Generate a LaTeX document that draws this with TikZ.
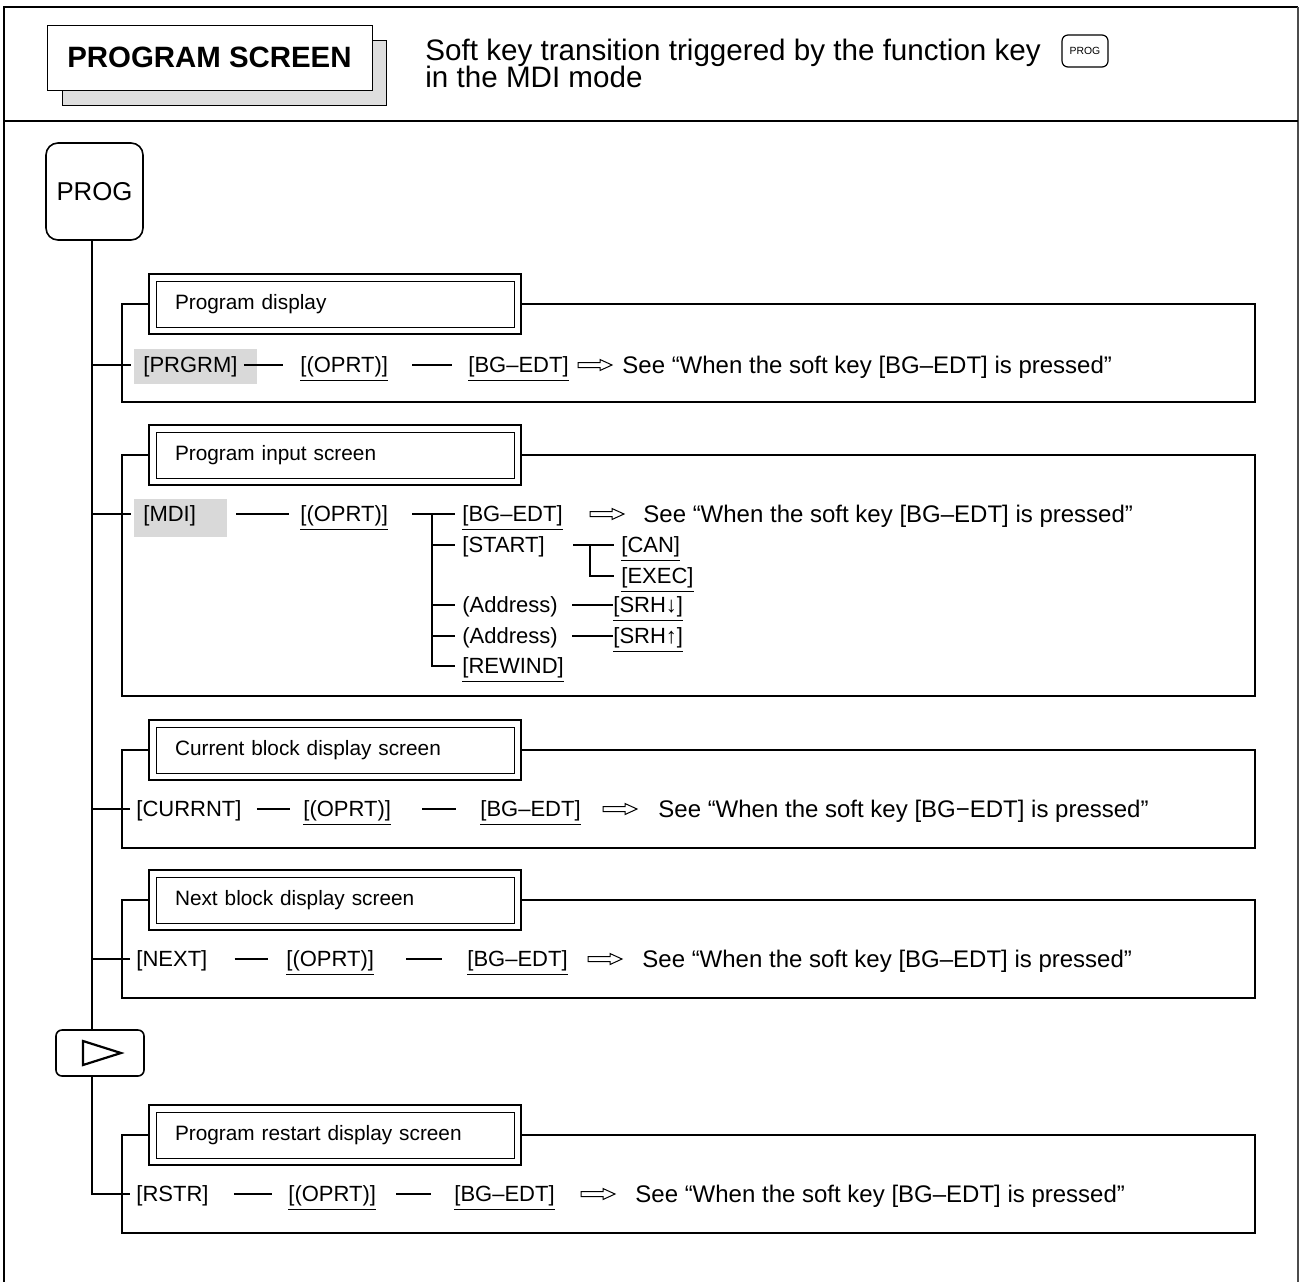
\documentclass[tikz,border=0pt]{standalone}
\usepackage{fontspec}
\setmainfont{Liberation Sans}

\tikzset{
  wire/.style={line width=0.7pt},
  softkey/.style={anchor=west, inner sep=0pt, text height=9.9pt, text depth=2pt,
    font=\fontsize{11}{13}\selectfont},
  seetxt/.style={anchor=west, inner sep=0pt, text height=10.6pt, text depth=2pt,
    font=\fontsize{12}{14}\selectfont},
  hdrtxt/.style={anchor=base west, inner sep=0pt, font=\fontsize{14.8}{17}\selectfont},
  titlebox/.style={draw, line width=1pt, minimum width=186pt, minimum height=30pt,
    text width=160pt, inner xsep=13pt, align=left, font=\fontsize{10.4}{12}\selectfont},
  fkey/.style={draw, rounded corners=6pt, line width=0.8pt, inner sep=0pt},
  hilite/.style={fill=black!15},
  hollowarr/.pic={\draw[line width=0.5pt] (0,-2.5) -- (22,-2.5) -- (22,-5.5) -- (34,0)
    -- (22,5.5) -- (22,2.5) -- (0,2.5) -- cycle;},
}

\begin{document}
\begin{tikzpicture}[x=0.5pt, y=-0.5pt]
\useasboundingbox (0,0) rectangle (1300,1281);

% outer frame and header
\draw[line width=1.1pt] (4,1290) -- (4,7) -- (1298,7);
\draw[line width=0.8pt, black!70] (1298,7) -- (1298,1290);
\draw[line width=1pt] (4,121) -- (1298,121);
\node[draw, fill=black!13, minimum width=162pt, minimum height=32.5pt] (shadow) at (224,72.5) {};
\node[draw, fill=white, minimum width=162.5pt, minimum height=32.5pt,
  font=\bfseries\fontsize{14.7}{16}\selectfont] (screen) at (209.5,57.5) {PROGRAM SCREEN};
\node[hdrtxt] (hdrA) at (425,60) {Soft key transition triggered by the function key};
\node[hdrtxt] (hdrB) at (425,87) {in the MDI mode};
\node[fkey, rounded corners=3pt, line width=0.6pt, minimum width=23pt, minimum height=16pt,
  font=\fontsize{5.2}{6}\selectfont] (progkey) at (1085,51) {PROG};

% function keys and trunk
\node[fkey, minimum width=48.5pt, minimum height=48.5pt, font=\fontsize{12.9}{14}\selectfont]
  (prog) at (94.5,191.5) {\raisebox{-2pt}{PROG}};
\node[fkey, rounded corners=3pt, minimum width=44pt, minimum height=23pt] (nxt) at (100,1053) {};
\draw[line width=1.1pt] ([shift={(-17,-12)}]nxt.center) -- ([shift={(21,0)}]nxt.center)
  -- ([shift={(-17,12)}]nxt.center) -- cycle;
\coordinate (trk) at (92,240);
\draw[wire] (prog.south -| trk) -- (nxt.north -| trk);

% screen titles and frames
\foreach \nm/\cy/\by/\txt in {tA/304/402/Program display, tB/455/696/Program input screen,
  tC/750/848/Current block display screen, tD/900/998/Next block display screen,
  tE/1135/1233/Program restart display screen} {
  \node[titlebox] (\nm) at (335,\cy) {\txt};
  \draw[line width=0.5pt] ([shift={(8,8)}]\nm.north west) rectangle ([shift={(-8,-8)}]\nm.south east);
  \draw[wire] (\nm.west) -- (122,\cy) -- (122,\by) -- (1255,\by) -- (1255,\cy) -- (\nm.east);
}

% program display
\fill[hilite] (134,349) rectangle (257,384);
\node[softkey] (prgrm) at (143,365) {[PRGRM]};
\node[softkey] (oprtA) at (300,365) {\underline{[(OPRT)]}};
\node[softkey] (bgA) at (468,365) {\underline{[BG–EDT]}};
\pic at (578,365) {hollowarr};
\node[seetxt] (seeA) at (622,365) {See “When the soft key [BG–EDT] is pressed”};
\draw[wire] (trk |- prgrm) -- ([shift={(-12,0)}]prgrm.west);
\draw[wire] ([shift={(6,0)}]prgrm.east) -- ([shift={(-17,0)}]oprtA.west);
\draw[wire] ([shift={(24,0)}]oprtA.east) -- ([shift={(-16,0)}]bgA.west);

% program input screen
\fill[hilite] (134,499) rectangle (227,537);
\node[softkey] (mdi) at (143,514) {[MDI]};
\node[softkey] (oprtB) at (300,514) {\underline{[(OPRT)]}};
\node[softkey] (bgB) at (462,514) {\underline{[BG–EDT]}};
\node[softkey] (start) at (462,545) {[START]};
\node[softkey] (adrA) at (462,605) {(Address)};
\node[softkey] (adrB) at (462,636) {(Address)};
\node[softkey] (rewind) at (462,666) {\underline{[REWIND]}};
\node[softkey] (can) at (621,545) {\underline{[CAN]}};
\node[softkey] (exec) at (621,576) {\underline{[EXEC]}};
\node[softkey] (srhA) at (613,605) {\underline{[SRH↓]}};
\node[softkey] (srhB) at (613,636) {\underline{[SRH↑]}};
\pic at (590,514) {hollowarr};
\node[seetxt] (seeB) at (643,514) {See “When the soft key [BG–EDT] is pressed”};
\coordinate (fork) at (432,514);
\coordinate (forkS) at (590,545);
\draw[wire] (trk |- mdi) -- ([shift={(-12,0)}]mdi.west);
\draw[wire] ([shift={(40,0)}]mdi.east) -- ([shift={(-11,0)}]oprtB.west);
\draw[wire] ([shift={(24,0)}]oprtB.east) -- ([shift={(-7,0)}]bgB.west);
\draw[wire] (fork) |- ([shift={(-7,0)}]rewind.west);
\foreach \k in {start,adrA,adrB} \draw[wire] (fork |- \k) -- ([shift={(-7,0)}]\k.west);
\draw[wire] ([shift={(28,0)}]start.east) -- ([shift={(-7,0)}]can.west);
\draw[wire] (forkS) |- ([shift={(-7,0)}]exec.west);
\draw[wire] ([shift={(14,0)}]adrA.east) -- (srhA.west);
\draw[wire] ([shift={(14,0)}]adrB.east) -- (srhB.west);

% current block display screen
\node[softkey] (currnt) at (136,809) {[CURRNT]};
\node[softkey] (oprtC) at (303,809) {\underline{[(OPRT)]}};
\node[softkey] (bgC) at (480,809) {\underline{[BG–EDT]}};
\pic at (603,809) {hollowarr};
\node[seetxt] (seeC) at (658,809) {See “When the soft key [BG−EDT] is pressed”};
\draw[wire] (trk |- currnt) -- ([shift={(-6,0)}]currnt.west);
\draw[wire] ([shift={(15,0)}]currnt.east) -- ([shift={(-13,0)}]oprtC.west);
\draw[wire] ([shift={(31,0)}]oprtC.east) -- ([shift={(-24,0)}]bgC.west);

% next block display screen
\node[softkey] (next) at (136,959) {[NEXT]};
\node[softkey] (oprtD) at (286,959) {\underline{[(OPRT)]}};
\node[softkey] (bgD) at (467,959) {\underline{[BG–EDT]}};
\pic at (588,959) {hollowarr};
\node[seetxt] (seeD) at (642,959) {See “When the soft key [BG–EDT] is pressed”};
\draw[wire] (trk |- next) -- ([shift={(-6,0)}]next.west);
\draw[wire] ([shift={(27,0)}]next.east) -- ([shift={(-18,0)}]oprtD.west);
\draw[wire] ([shift={(32,0)}]oprtD.east) -- ([shift={(-25,0)}]bgD.west);

% program restart display screen
\node[softkey] (rstr) at (136,1194) {[RSTR]};
\node[softkey] (oprtE) at (288,1194) {\underline{[(OPRT)]}};
\node[softkey] (bgE) at (454,1194) {\underline{[BG–EDT]}};
\pic at (581,1194) {hollowarr};
\node[seetxt] (seeE) at (635,1194) {See “When the soft key [BG–EDT] is pressed”};
\draw[wire] (nxt.south -| trk) |- ([shift={(-6,0)}]rstr.west);
\draw[wire] ([shift={(25,0)}]rstr.east) -- ([shift={(-16,0)}]oprtE.west);
\draw[wire] ([shift={(20,0)}]oprtE.east) -- ([shift={(-23,0)}]bgE.west);
\end{tikzpicture}
\end{document}
